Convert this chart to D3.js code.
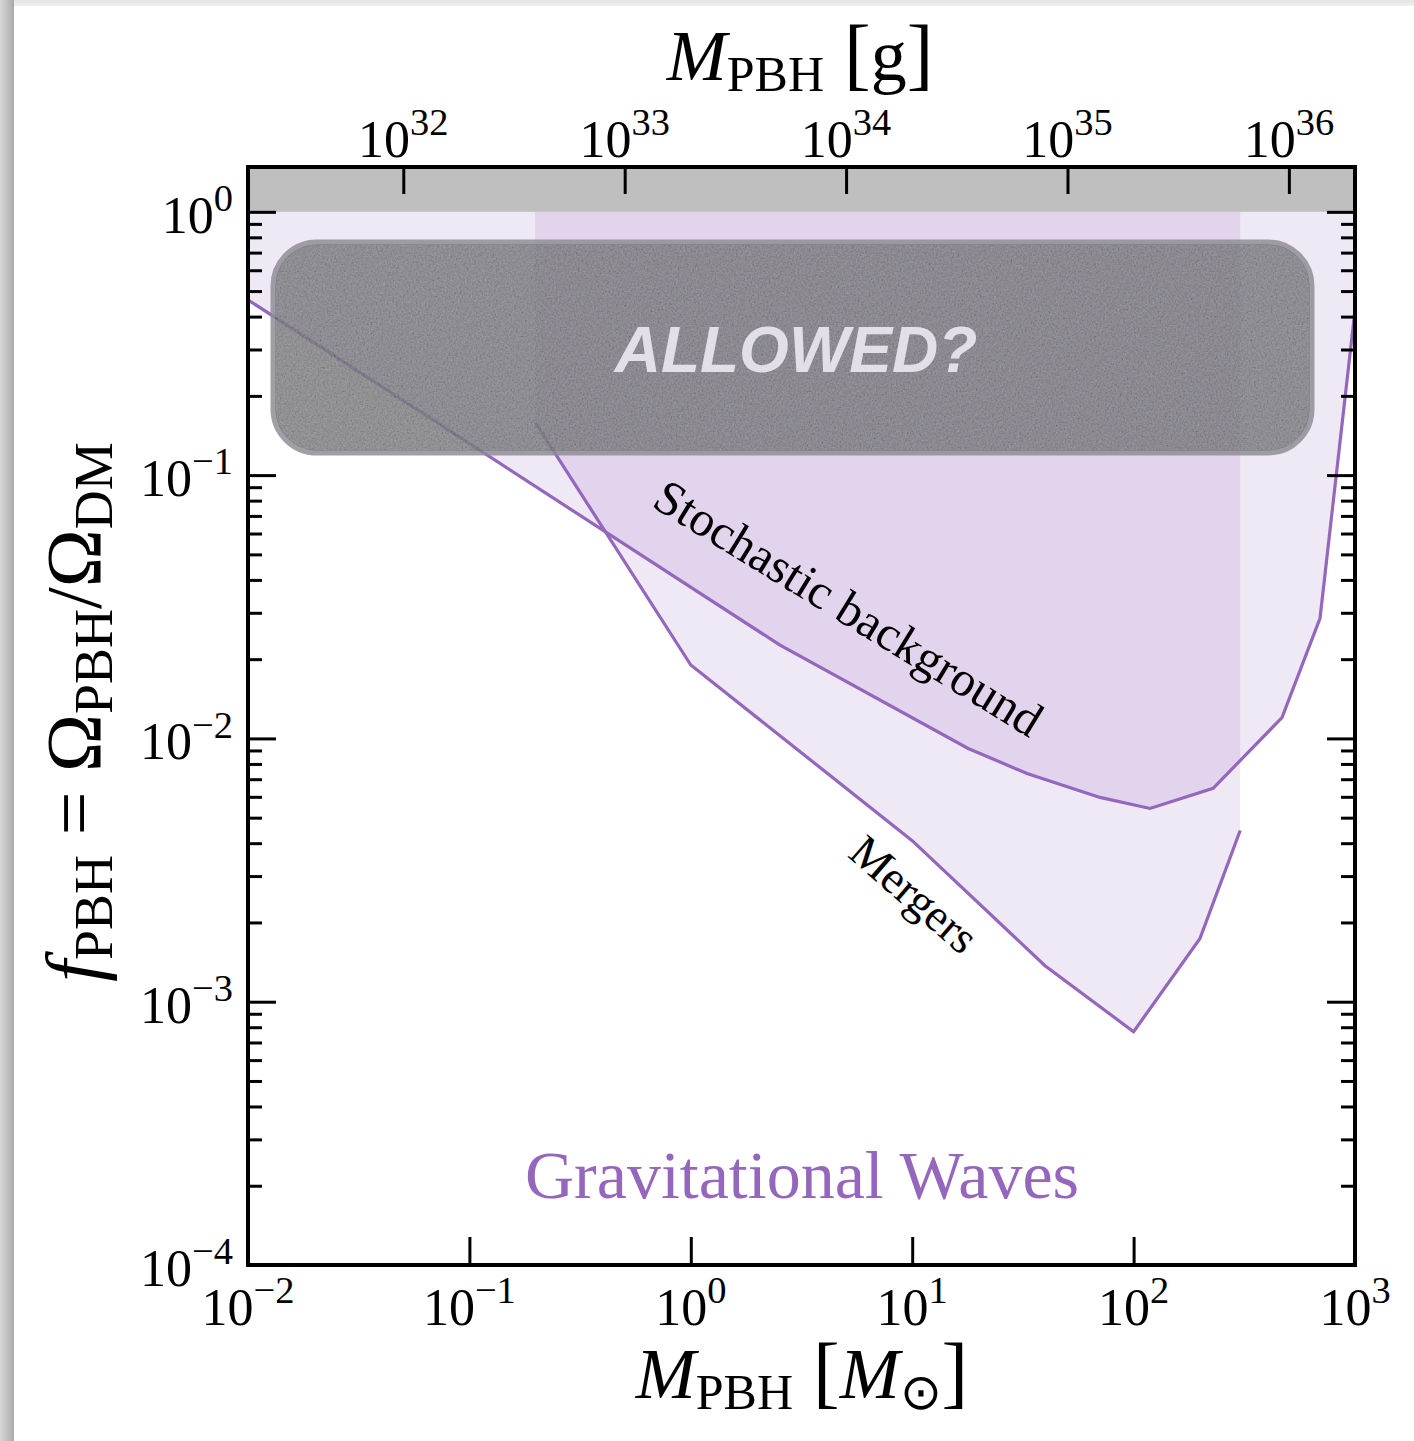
<!DOCTYPE html>
<html><head><meta charset="utf-8">
<script src="https://cdn.jsdelivr.net/npm/d3@7"></script>
<style>body{margin:0;background:#fff} svg{display:block}</style>
</head><body>
<svg id="c" width="1414" height="1441"></svg>
<script>
// ---- data ----
const stochMass = [0.01, 2.53, 17.9, 33, 70.5, 118.6, 228.6, 468, 695, 1000];
const stochF    = [0.463, 0.0226, 0.00916, 0.00736, 0.00597, 0.00542, 0.00646, 0.0120, 0.0286, 0.424];
const mergMass  = [0.198, 1.0, 10.0, 39.8, 100, 199.5, 303];
const mergF     = [0.159, 0.0190, 0.00409, 0.00137, 0.000769, 0.00174, 0.00447];
const xTickExp  = [-2, -1, 0, 1, 2, 3];
const yTickExp  = [0, -1, -2, -3, -4];
const gTickExp  = [32, 33, 34, 35, 36];
const MSUN_G = 1.989e33;

const svg = d3.select("#c");
const L = 248, R = 1355, T = 167, B = 1265;
const x = d3.scaleLog().domain([1e-2, 1e3]).range([L, R]);
const y = d3.scaleLog().domain([1e-4, 1.48]).range([B, T]);
const xg = d3.scaleLog().domain([1e-2 * MSUN_G, 1e3 * MSUN_G]).range([L, R]);

const PURPLE = "#9467bd";
const SERIF = "'Liberation Serif', 'Times New Roman', serif";

const defs = svg.append("defs");
const lg = defs.append("linearGradient").attr("id", "lsh").attr("x1", 0).attr("x2", 1).attr("y1", 0).attr("y2", 0);
lg.append("stop").attr("offset", 0).attr("stop-color", "#d6d6d6");
lg.append("stop").attr("offset", 0.8).attr("stop-color", "#b4b4b4");
lg.append("stop").attr("offset", 1).attr("stop-color", "#a8a8a8");
const tg = defs.append("linearGradient").attr("id", "tsh").attr("x1", 0).attr("x2", 0).attr("y1", 0).attr("y2", 1);
tg.append("stop").attr("offset", 0).attr("stop-color", "#e4e4e4");
tg.append("stop").attr("offset", 1).attr("stop-color", "#f0f0f0");
defs.append("clipPath").attr("id", "plotclip").append("rect").attr("x", L).attr("y", T).attr("width", R - L).attr("height", B - T);
const f = defs.append("filter").attr("id", "grain").attr("x", 0).attr("y", 0).attr("width", "100%").attr("height", "100%");
f.append("feTurbulence").attr("type", "fractalNoise").attr("baseFrequency", 0.55).attr("numOctaves", 4).attr("seed", 5).attr("result", "t");
f.append("feColorMatrix").attr("in", "t").attr("type", "matrix")
 .attr("values", "0.6 0.6 0.6 0 -0.4  0.6 0.6 0.6 0 -0.4  0.6 0.6 0.6 0 -0.4  0 0 0 0 1").attr("result", "g");
f.append("feComposite").attr("in", "g").attr("in2", "SourceGraphic").attr("operator", "in");

// card shadow
svg.append("rect").attr("x", 0).attr("y", 0).attr("width", 1414).attr("height", 6).attr("fill", "url(#tsh)");
svg.append("rect").attr("x", 0).attr("y", 0).attr("width", 14).attr("height", 1441).attr("fill", "url(#lsh)");

const plot = svg.append("g").attr("clip-path", "url(#plotclip)");
const stoch = stochMass.map((m, i) => [m, stochF[i]]);
const merg = mergMass.map((m, i) => [m, mergF[i]]);
const area = d3.area().x(d => x(d[0])).y0(y(1)).y1(d => y(d[1]));
const line = d3.line().x(d => x(d[0])).y(d => y(d[1]));

plot.append("path").attr("d", area(stoch)).attr("fill", PURPLE).attr("fill-opacity", 0.15);
plot.append("path").attr("d", area(merg)).attr("fill", PURPLE).attr("fill-opacity", 0.15);
plot.append("rect").attr("x", L).attr("y", T).attr("width", R - L).attr("height", y(1) - T).attr("fill", "#bfbfbf");
plot.append("path").attr("d", line(stoch)).attr("fill", "none").attr("stroke", PURPLE).attr("stroke-width", 3.2);
plot.append("path").attr("d", line(merg)).attr("fill", "none").attr("stroke", PURPLE).attr("stroke-width", 3.2);

// labels on curves
svg.append("text").attr("font-family", SERIF).attr("font-size", 49).attr("text-anchor", "middle")
  .attr("transform", "translate(840,622) rotate(31.5)").text("Stochastic background");
svg.append("text").attr("font-family", SERIF).attr("font-size", 46).attr("text-anchor", "middle")
  .attr("transform", "translate(904,906) rotate(41)").text("Mergers");
svg.append("text").attr("font-family", SERIF).attr("font-size", 68).attr("text-anchor", "middle")
  .attr("x", 802).attr("y", 1198).attr("fill", PURPLE).text("Gravitational Waves");

// ALLOWED? box
const box = svg.append("g").attr("opacity", 0.84);
box.append("rect").attr("x", 273).attr("y", 242).attr("width", 1039).attr("height", 211).attr("rx", 44)
  .attr("fill", "#616166").attr("stroke", "#8e8d95").attr("stroke-width", 5);
box.append("rect").attr("x", 276).attr("y", 245).attr("width", 1033).attr("height", 205).attr("rx", 41)
  .attr("fill", "#000").attr("filter", "url(#grain)").attr("opacity", 0.3);
svg.append("text").attr("x", 796).attr("y", 372).attr("text-anchor", "middle")
  .attr("font-family", "'Liberation Sans', Arial, sans-serif").attr("font-weight", "bold").attr("font-style", "italic")
  .attr("font-size", 64).attr("fill", "#e2dfe9").text("ALLOWED?");

// axes
const tickW = 3;
svg.append("g").attr("transform", `translate(0,${B})`)
  .call(d3.axisBottom(x).tickValues(xTickExp.map(e => 10 ** e)).tickSize(-28).tickFormat(""))
  .call(g => { g.select(".domain").remove(); g.selectAll("line").attr("stroke-width", tickW); });
svg.append("g").attr("transform", `translate(0,${T})`)
  .call(d3.axisTop(xg).tickValues(gTickExp.map(e => 10 ** e)).tickSize(-27).tickFormat(""))
  .call(g => { g.select(".domain").remove(); g.selectAll("line").attr("stroke-width", tickW); });
const minor = [];
for (let e = -4; e < 0; e++) for (let k = 2; k <= 9; k++) minor.push(k * 10 ** e);
[[L, d3.axisLeft], [R, d3.axisRight]].forEach(([px, fn]) => {
  svg.append("g").attr("transform", `translate(${px},0)`)
    .call(fn(y).tickValues(yTickExp.map(e => 10 ** e)).tickSize(-28).tickFormat(""))
    .call(g => { g.select(".domain").remove(); g.selectAll("line").attr("stroke-width", tickW); });
  svg.append("g").attr("transform", `translate(${px},0)`)
    .call(fn(y).tickValues(minor).tickSize(-14).tickFormat(""))
    .call(g => { g.select(".domain").remove(); g.selectAll("line").attr("stroke-width", tickW); });
});
svg.append("rect").attr("x", L).attr("y", T).attr("width", R - L).attr("height", B - T)
  .attr("fill", "none").attr("stroke", "#000").attr("stroke-width", 4);

function pow10(sel, e, fs) {
  sel.append("tspan").text("10");
  sel.append("tspan").attr("font-size", fs * 0.74).attr("dy", -fs * 0.42).text(e < 0 ? "\u2212" + (-e) : String(e));
}
const FS = 52;
xTickExp.forEach(e => {
  svg.append("text").attr("font-family", SERIF).attr("font-size", FS).attr("text-anchor", "middle")
    .attr("x", x(10 ** e)).attr("y", 1325).call(s => pow10(s, e, FS));
});
gTickExp.forEach(e => {
  svg.append("text").attr("font-family", SERIF).attr("font-size", FS).attr("text-anchor", "middle")
    .attr("x", xg(10 ** e)).attr("y", 157).call(s => pow10(s, e, FS));
});
yTickExp.forEach(e => {
  svg.append("text").attr("font-family", SERIF).attr("font-size", FS).attr("text-anchor", "end")
    .attr("x", 233).attr("y", y(10 ** e) + 21).call(s => pow10(s, e, FS));
});

// axis titles
function title(sel, parts) {
  let cur = 0;
  parts.forEach(p => {
    const t = sel.append("tspan").text(p.t);
    if (p.i) t.attr("font-style", "italic");
    if (p.fs) t.attr("font-size", p.fs);
    const off = p.sub || 0;
    if (off !== cur) { t.attr("dy", off - cur); cur = off; }
  });
}
const TF = 72, SF = 50;
svg.append("text").attr("font-family", SERIF).attr("font-size", TF).attr("text-anchor", "middle")
  .attr("x", 802).attr("y", 1398)
  .call(s => title(s, [{t: "M", i: 1}, {t: "PBH", fs: SF, sub: 11}, {t: " [", fs: 80}, {t: "M", i: 1},
                       {t: "\u2299", fs: SF, sub: 11}, {t: "]", fs: 80}]));
svg.append("text").attr("font-family", SERIF).attr("font-size", TF).attr("text-anchor", "middle")
  .attr("x", 800).attr("y", 80)
  .call(s => title(s, [{t: "M", i: 1}, {t: "PBH", fs: SF, sub: 11}, {t: " [", fs: 80}, {t: "g"}, {t: "]", fs: 80}]));
svg.append("text").attr("font-family", SERIF).attr("font-size", 78).attr("text-anchor", "middle")
  .attr("transform", "translate(100,712) rotate(-90)")
  .call(s => title(s, [{t: "f", i: 1}, {t: "PBH", fs: 54, sub: 12}, {t: " = \u03A9"}, {t: "PBH", fs: 54, sub: 12},
                       {t: "/\u03A9"}, {t: "DM", fs: 54, sub: 12}]));
</script>
</body></html>
